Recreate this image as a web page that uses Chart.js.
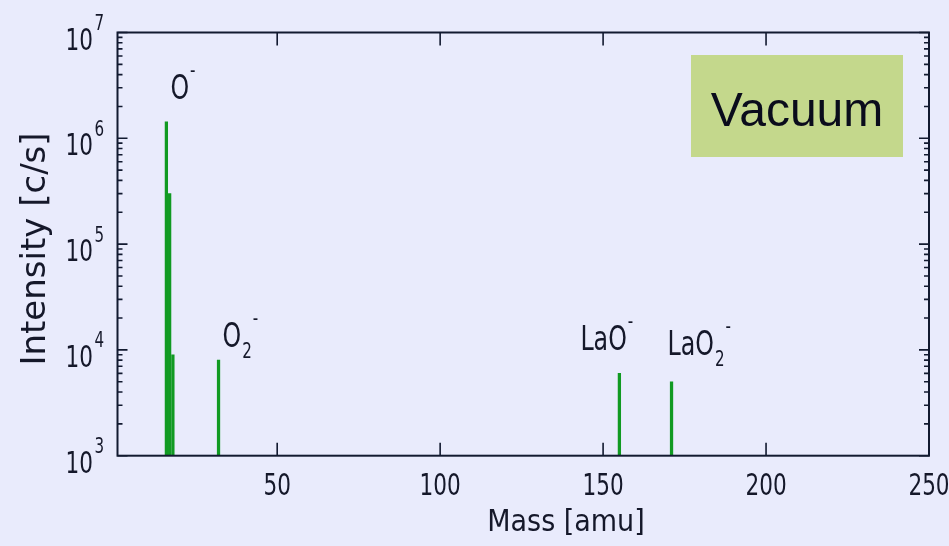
<!DOCTYPE html>
<html>
<head>
<meta charset="utf-8">
<script src="https://cdn.jsdelivr.net/npm/chart.js@4.4.1/dist/chart.umd.min.js"></script>
<style>
  html, body { margin: 0; padding: 0; background: #e9ebfc; overflow: hidden; }
  #wrap { position: relative; width: 1000px; height: 546px; }
</style>
</head>
<body>
<div id="wrap"><canvas id="c"></canvas></div>
<script>
// Peak masses (amu) and measured intensities (counts per second)
const masses = [16, 17, 18, 32, 155, 171];
const intensities = [1.43e6, 3.0e5, 9.0e3, 8.0e3, 6.0e3, 5.0e3];

// Axis ticks
const xTickValues = [50, 100, 150, 200, 250];
const yExponents = [3, 4, 5, 6, 7];

// Peak labels: base text, optional subscript, superscript charge
const peakLabels = [
  { mass: 16, base: 'O', sub: '', sup: '-' },
  { mass: 32, base: 'O', sub: '2', sup: '-' },
  { mass: 155, base: 'LaO', sub: '', sup: '-' },
  { mass: 171, base: 'LaO', sub: '2', sup: '-' }
];

const AXIS = '#121a30';
const COND = '"DejaVu Sans Condensed", "DejaVu Sans", sans-serif';
const SQUEEZE = 0.8;

// label placement relative to each peak (pixels)
const labelPlacement = {
  16: { dx: 4, y: 99 },
  32: { dx: 4, y: 347 },
  155: { dx: -39, y: 350 },
  171: { dx: -4, y: 355 }
};

// draw horizontally condensed text; returns its drawn width
function narrowText(ctx, text, x, y, size, align) {
  ctx.save();
  ctx.font = size + 'px ' + COND;
  const w = ctx.measureText(text).width * SQUEEZE;
  let left = x;
  if (align === 'center') left = x - w / 2;
  else if (align === 'right') left = x - w;
  ctx.translate(left, y);
  ctx.scale(SQUEEZE, 1);
  ctx.textAlign = 'left';
  ctx.fillText(text, 0, 0);
  ctx.restore();
  return w;
}

const spectrumDecor = {
  id: 'spectrumDecor',
  beforeDraw(chart) {
    const ctx = chart.ctx;
    ctx.save();
    ctx.fillStyle = '#e9ebfc';
    ctx.fillRect(0, 0, chart.width, chart.height);
    ctx.restore();
  },
  afterDraw(chart) {
    const ctx = chart.ctx;
    const a = chart.chartArea;
    const xs = chart.scales.x, ys = chart.scales.y;
    ctx.save();
    ctx.textBaseline = 'alphabetic';

    // frame
    ctx.strokeStyle = AXIS;
    ctx.lineWidth = 2;
    ctx.strokeRect(a.left, a.top, a.right - a.left, a.bottom - a.top);

    // x ticks, pointing inward on bottom and top
    ctx.lineWidth = 1.6;
    ctx.beginPath();
    xTickValues.forEach(v => {
      const px = xs.getPixelForValue(v);
      if (px >= a.right - 1) return;
      ctx.moveTo(px, a.bottom); ctx.lineTo(px, a.bottom - 13);
      ctx.moveTo(px, a.top); ctx.lineTo(px, a.top + 13);
    });
    // y ticks: majors at decades, minors at 2..9
    yExponents.forEach((e, i) => {
      const py = ys.getPixelForValue(Math.pow(10, e));
      ctx.moveTo(a.left, py); ctx.lineTo(a.left + 10, py);
      ctx.moveTo(a.right, py); ctx.lineTo(a.right - 10, py);
      if (i < yExponents.length - 1) {
        for (let m = 2; m <= 9; m++) {
          const pm = ys.getPixelForValue(m * Math.pow(10, e));
          ctx.moveTo(a.left, pm); ctx.lineTo(a.left + 5, pm);
          ctx.moveTo(a.right, pm); ctx.lineTo(a.right - 5, pm);
        }
      }
    });
    ctx.stroke();

    ctx.fillStyle = '#15182a';

    // x tick labels
    xTickValues.forEach(v => {
      narrowText(ctx, String(v), xs.getPixelForValue(v), 495, 30, 'center');
    });

    // y tick labels: 10 with superscript exponent
    yExponents.forEach(e => {
      const py = ys.getPixelForValue(Math.pow(10, e));
      narrowText(ctx, '10', 93, py + 17, 30, 'right');
      narrowText(ctx, String(e), 94.5, py - 2.5, 21, 'left');
    });

    // axis titles
    ctx.textAlign = 'center';
    ctx.font = '30px ' + COND;
    ctx.fillText('Mass [amu]', 566, 531);
    ctx.save();
    ctx.translate(45, 249);
    ctx.rotate(-Math.PI / 2);
    ctx.font = '34px "DejaVu Sans", sans-serif';
    ctx.fillText('Intensity [c/s]', 0, 0);
    ctx.restore();

    // peak labels
    peakLabels.forEach(l => {
      const place = labelPlacement[l.mass];
      const x0 = xs.getPixelForValue(l.mass) + place.dx;
      const base = place.y;
      let x = x0 + narrowText(ctx, l.base, x0, base, 33, 'left');
      if (l.sub) {
        x += narrowText(ctx, l.sub, x + 1, base + 11, 21, 'left') + 2;
      } else {
        x += 1;
      }
      narrowText(ctx, l.sup, x, base - 22, 21, 'left');
    });

    // condition tag
    ctx.fillStyle = '#c4d88c';
    ctx.fillRect(691, 55, 212, 102);
    ctx.fillStyle = '#0a0c1c';
    ctx.font = '48px "Liberation Sans", Arial, sans-serif';
    ctx.textAlign = 'center';
    ctx.fillText('Vacuum', 797, 126);

    ctx.restore();
  }
};

new Chart(document.getElementById('c'), {
  type: 'bar',
  data: {
    datasets: [{
      label: 'Intensity',
      data: masses.map((m, i) => ({ x: m, y: intensities[i] })),
      backgroundColor: '#119a22',
      borderWidth: 0,
      barThickness: 2.6
    }]
  },
  options: {
    responsive: true,
    maintainAspectRatio: false,
    animation: false,
    events: [],
    layout: { padding: { left: 117.5, top: 32.5, right: 71, bottom: 90.3 } },
    plugins: { legend: { display: false }, tooltip: { enabled: false } },
    scales: {
      x: { type: 'linear', min: 1, max: 250, offset: false, display: false },
      y: { type: 'logarithmic', min: 1000, max: 1e7, display: false }
    }
  },
  plugins: [spectrumDecor]
});
</script>
</body>
</html>
